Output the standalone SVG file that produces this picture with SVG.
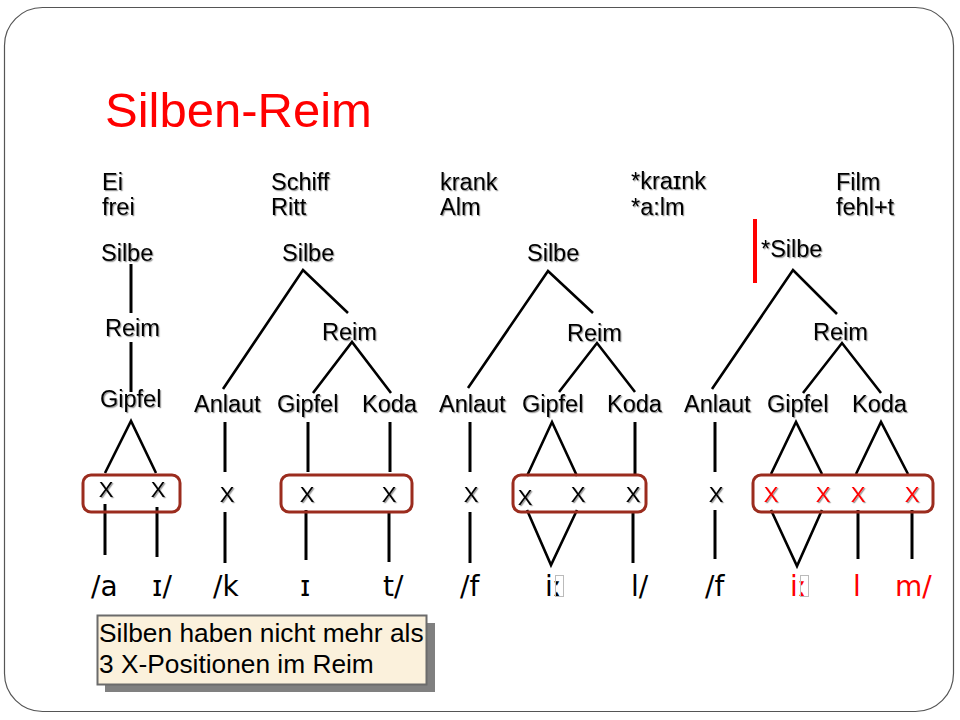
<svg xmlns="http://www.w3.org/2000/svg" width="960" height="720" viewBox="0 0 960 720">
<defs>
<filter id="sh" x="-10%" y="-20%" width="130%" height="150%">
<feDropShadow dx="1.2" dy="1.2" stdDeviation="0.7" flood-color="#000" flood-opacity="0.4"/>
</filter>
</defs>
<style>
text{font-family:"Liberation Sans",Arial,"DejaVu Sans",sans-serif;fill:#000}
.t{font-size:23.5px;filter:url(#sh)}
.x{font-size:22px;text-anchor:middle;filter:url(#sh)}
.p{font-size:28px;font-family:"DejaVu Sans","Liberation Sans",sans-serif}
.red{fill:#ff0000}
.ln{stroke:#000;stroke-width:2.6;fill:none;stroke-linecap:butt}
.v{stroke:#000;stroke-width:3;fill:none}
.box{fill:none;stroke:#9b2c1e;stroke-width:3}
.tofu{fill:none;stroke:#bbb;stroke-width:1}
</style>
<rect x="0" y="0" width="960" height="720" fill="#fff"/>
<rect id="frame" x="4.5" y="7.5" width="949" height="704" rx="38" ry="38" fill="#fff" stroke="#555" stroke-width="1.2"/>
<g id="title"><text x="105" y="127" class="red" style="font-size:49px">Silben-Reim</text></g>

<g id="examples">
<text class="t" x="102" y="190">Ei</text><text class="t" x="102" y="215">frei</text>
<text class="t" x="271" y="190">Schiff</text><text class="t" x="271" y="215">Ritt</text>
<text class="t" x="440" y="190">krank</text><text class="t" x="440" y="215">Alm</text>
<text class="t" x="631" y="189">*kraɪnk</text><text class="t" x="631" y="215">*a:lm</text>
<text class="t" x="836" y="190">Film</text><text class="t" x="836" y="215">fehl+t</text>
</g>

<g id="connectors">
<!-- tree 1 -->
<line class="v" x1="131" y1="264" x2="131" y2="313"/>
<line class="v" x1="131" y1="342" x2="131" y2="392"/>
<polyline class="ln" points="105,473 131,421 156,473"/>
<line class="v" x1="105" y1="504" x2="105" y2="555"/>
<line class="v" x1="157" y1="507" x2="157" y2="557"/>
<!-- tree 2 -->
<polyline class="ln" points="223,389 303,270 348,313"/>
<polyline class="ln" points="313,393 352,342 391,393"/>
<line class="v" x1="225" y1="422" x2="225" y2="472"/>
<line class="v" x1="308" y1="422" x2="308" y2="472"/>
<line class="v" x1="390" y1="422" x2="390" y2="472"/>
<line class="v" x1="225" y1="512" x2="225" y2="563"/>
<line class="v" x1="306" y1="510" x2="306" y2="560"/>
<line class="v" x1="389" y1="512" x2="389" y2="562"/>
<!-- tree 3 -->
<polyline class="ln" points="468,388 548,271 593,313"/>
<polyline class="ln" points="559,392 597,343 635,392"/>
<line class="v" x1="470" y1="422" x2="470" y2="472"/>
<polyline class="ln" points="527,476 552,422 577,476"/>
<line class="v" x1="635" y1="422" x2="635" y2="475"/>
<line class="v" x1="470" y1="512" x2="470" y2="563"/>
<polyline class="ln" points="527,510 551,565 577,510"/>
<line class="v" x1="633" y1="513" x2="633" y2="563"/>
<!-- tree 4 -->
<polyline class="ln" points="712,389 793,270 837,314"/>
<polyline class="ln" points="803,393 842,343 881,393"/>
<line class="v" x1="715" y1="422" x2="715" y2="472"/>
<polyline class="ln" points="771,474 796,422 822,474"/>
<polyline class="ln" points="856,474 881,422 908,474"/>
<line class="v" x1="715" y1="510" x2="715" y2="559"/>
<polyline class="ln" points="771,510 797,566 822,510"/>
<line class="v" x1="858" y1="510" x2="858" y2="559"/>
<line class="v" x1="912" y1="510" x2="912" y2="559"/>
</g>

<g id="marker-red"><rect x="753" y="219" width="4" height="64" fill="#ff0000"/></g>

<g id="tree1">
<text class="t" x="101" y="261">Silbe</text>
<text class="t" x="105" y="336">Reim</text>
<text class="t" x="100" y="407">Gipfel</text>
<rect class="box" x="83" y="475" width="97" height="37" rx="8"/>
<text class="x" x="106" y="497">X</text>
<text class="x" x="158" y="497">X</text>
<text class="p" x="91" y="596">/a</text>
<text class="p" x="152" y="596">ɪ/</text>
</g>

<g id="tree2">
<text class="t" x="282" y="261">Silbe</text>
<text class="t" x="322" y="340">Reim</text>
<text class="t" x="194" y="412">Anlaut</text>
<text class="t" x="277" y="412">Gipfel</text>
<text class="t" x="362" y="412">Koda</text>
<rect class="box" x="281" y="475" width="131" height="37" rx="8"/>
<text class="x" x="227" y="502">X</text>
<text class="x" x="307" y="502">X</text>
<text class="x" x="389" y="502">X</text>
<text class="p" x="213" y="596">/k</text>
<text class="p" x="300" y="596">ɪ</text>
<text class="p" x="383" y="596">t/</text>
</g>

<g id="tree3">
<text class="t" x="527" y="261">Silbe</text>
<text class="t" x="567" y="341">Reim</text>
<text class="t" x="439" y="412">Anlaut</text>
<text class="t" x="522" y="412">Gipfel</text>
<text class="t" x="607" y="412">Koda</text>
<rect class="box" x="513" y="475" width="133" height="37" rx="8"/>
<text class="x" x="471" y="502">X</text>
<text class="x" x="525" y="505">X</text>
<text class="x" x="578" y="502">X</text>
<text class="x" x="633" y="502">X</text>
<text class="p" x="460" y="596">/f</text>
<text class="p" x="545" y="596">iː</text>
<rect class="tofu" x="555.5" y="575.5" width="8" height="21"/>
<text class="p" x="631" y="596">l/</text>
</g>

<g id="tree4">
<text class="t" x="761" y="257">*Silbe</text>
<text class="t" x="813" y="340">Reim</text>
<text class="t" x="684" y="412">Anlaut</text>
<text class="t" x="767" y="412">Gipfel</text>
<text class="t" x="852" y="412">Koda</text>
<rect class="box" x="753" y="475" width="180" height="37" rx="8"/>
<text class="x" x="716" y="502">X</text>
<text class="x red" x="771" y="502">X</text>
<text class="x red" x="823" y="502">X</text>
<text class="x red" x="858" y="502">X</text>
<text class="x red" x="912" y="502">X</text>
<text class="p" x="705" y="596">/f</text>
<text class="p red" x="790" y="596">iː</text>
<rect class="tofu" x="800.5" y="575.5" width="8" height="21"/>
<text class="p red" x="853" y="596">l</text>
<text class="p red" x="895" y="596">m/</text>
</g>

<g id="note">
<rect x="105" y="623" width="330" height="69" fill="#808080"/>
<rect x="97.5" y="615.5" width="329" height="69" fill="#fbf1dc" stroke="#6b6b6b" stroke-width="2"/>
<text x="99" y="642" style="font-size:26.3px">Silben haben nicht mehr als</text>
<text x="99" y="673" style="font-size:26.3px">3 X-Positionen im Reim</text>
</g>
</svg>
